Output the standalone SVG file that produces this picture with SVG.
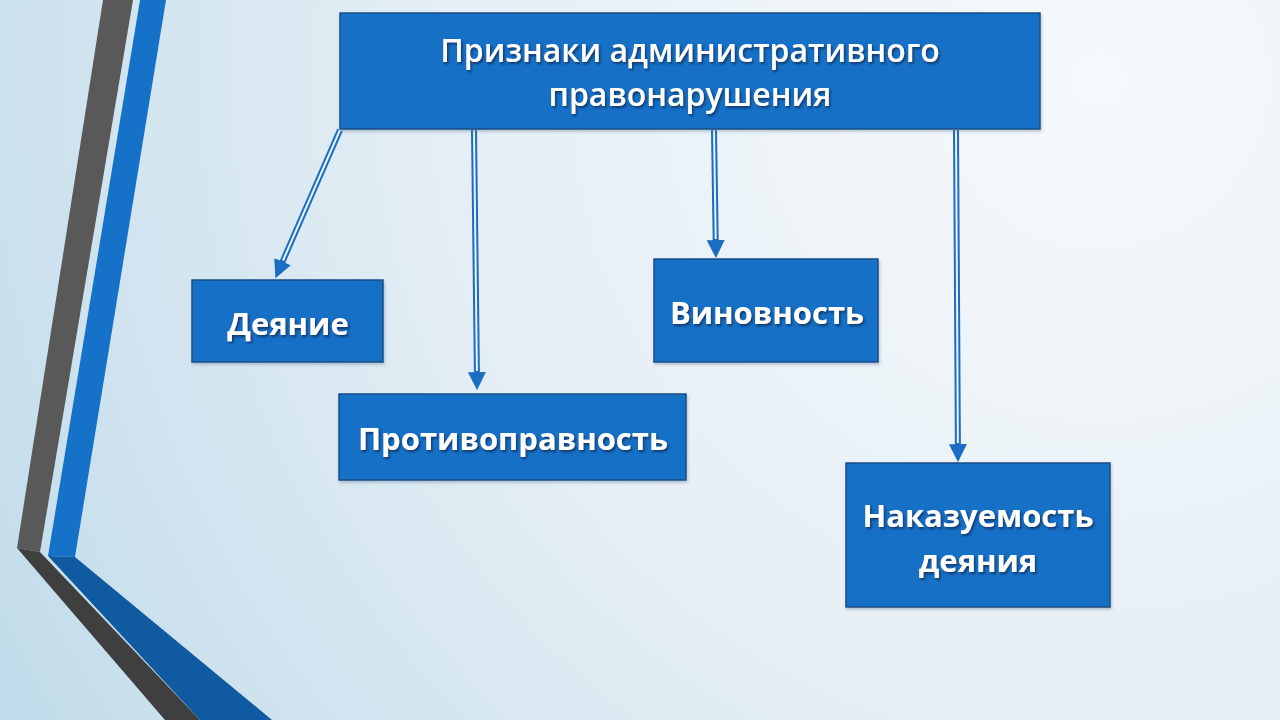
<svg xmlns="http://www.w3.org/2000/svg" width="1280" height="720" viewBox="0 0 1280 720">
<defs>
<radialGradient id="bg" cx="1100" cy="80" r="1400" gradientUnits="userSpaceOnUse">
<stop offset="0" stop-color="#f6f9fb"/>
<stop offset="0.45" stop-color="#e6eff5"/>
<stop offset="1" stop-color="#b9d7e8"/>
</radialGradient>
<filter id="ts" x="-10%" y="-30%" width="120%" height="160%">
<feDropShadow dx="1.5" dy="2" stdDeviation="1.2" flood-color="#0a2a50" flood-opacity="0.75"/>
</filter>
<filter id="bs" x="-5%" y="-5%" width="110%" height="115%">
<feDropShadow dx="1" dy="2" stdDeviation="1.5" flood-color="#5a7a95" flood-opacity="0.4"/>
</filter>
<marker id="ah" viewBox="0 0 10 10" refX="0.5" refY="5" markerWidth="18" markerHeight="19" orient="auto" markerUnits="userSpaceOnUse">
<path d="M0,0 L10,5 L0,10 z" fill="#1a6dc2"/>
</marker>
</defs>
<style>
.box{fill:#1470c6;stroke:#1b4f86;stroke-width:1.5}
.lbl{font-family:"Open Sans","Liberation Sans",sans-serif;font-weight:700;fill:#ffffff;text-anchor:middle;filter:url(#ts)}
.ttl{font-weight:600}
.outer{stroke:#1a6dc2;stroke-width:6;fill:none}
.inner{stroke:#eaf2f8;stroke-width:2;fill:none}
</style>
<rect width="1280" height="720" fill="url(#bg)"/>
<g id="decor">
<polygon points="103,0 133,0 40,552 17,548" fill="#595959"/>
<polygon points="17,548 40,552 200,720 165,720" fill="#3f3f3f"/>
<polygon points="140,0 166,0 75,557 48,556" fill="#1672c8"/>
<polygon points="48,556 75,557 272,720 200,720" fill="#0f5aa0"/>
</g>
<g id="connectors">
<line class="outer" x1="340" y1="130" x2="282.2" y2="262.5" marker-end="url(#ah)"/>
<line class="inner" x1="340" y1="130" x2="283" y2="260.5"/>
<line class="outer" x1="474" y1="130" x2="476.9" y2="373" marker-end="url(#ah)"/>
<line class="inner" x1="474" y1="130" x2="476.9" y2="371"/>
<line class="outer" x1="714" y1="130" x2="715.7" y2="241" marker-end="url(#ah)"/>
<line class="inner" x1="714" y1="130" x2="715.7" y2="239"/>
<line class="outer" x1="956" y1="130" x2="957.9" y2="445" marker-end="url(#ah)"/>
<line class="inner" x1="956" y1="130" x2="957.9" y2="443"/>
</g>
<g id="title">
<rect class="box" x="340" y="13" width="700" height="116" filter="url(#bs)"/>
<text class="lbl ttl" x="690" y="62" font-size="32">Признаки административного</text>
<text class="lbl ttl" x="690" y="106" font-size="32">правонарушения</text>
</g>
<g id="deyanie">
<rect class="box" x="192" y="280" width="191" height="82" filter="url(#bs)"/>
<text class="lbl" x="288" y="335" font-size="31">Деяние</text>
</g>
<g id="protivopravnost">
<rect class="box" x="339" y="394" width="347" height="86" filter="url(#bs)"/>
<text class="lbl" x="513" y="450" font-size="31">Противоправность</text>
</g>
<g id="vinovnost">
<rect class="box" x="654" y="259" width="224" height="103" filter="url(#bs)"/>
<text class="lbl" x="767" y="324" font-size="31">Виновность</text>
</g>
<g id="nakazuemost">
<rect class="box" x="846" y="463" width="264" height="144" filter="url(#bs)"/>
<text class="lbl" x="978" y="527" font-size="31">Наказуемость</text>
<text class="lbl" x="978" y="572" font-size="31">деяния</text>
</g>
</svg>
